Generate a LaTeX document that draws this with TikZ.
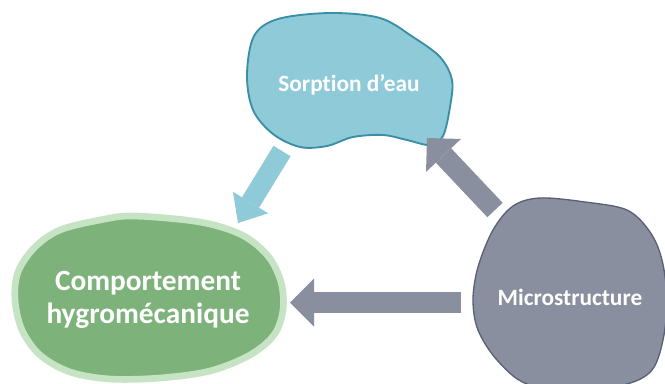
\documentclass[tikz,border=0pt]{standalone}
\usepackage{fontspec}
\setmainfont{Carlito}[Ligatures=NoCommon]
\usetikzlibrary{arrows.meta}
\definecolor{bluefill}{HTML}{8FCAD9}
\definecolor{blueline}{HTML}{3A8FA6}
\definecolor{greenfill}{HTML}{7DB37B}
\definecolor{greenline}{HTML}{C6E4C4}
\definecolor{grayfill}{HTML}{8A8FA0}
\definecolor{grayline}{HTML}{5A6075}
\tikzset{
  blobtext/.style={text=white, font=\bfseries\fontsize{17.5pt}{21pt}\selectfont, align=center, inner sep=0pt},
  bigtext/.style={text=white, font=\bfseries\fontsize{22pt}{24.75pt}\selectfont, align=center, inner sep=0pt},
  bluearrow/.style={draw=bluefill, line width=15pt, -{Triangle[width=31pt,length=18pt,line width=0pt,fill=bluefill]}},
  grayarrow/.style={draw=grayfill, line width=15.75pt, -{Triangle[width=36pt,length=18pt,line width=0pt,fill=grayfill]}}
}
\begin{document}
\begin{tikzpicture}[x=0.75pt,y=-0.75pt]
\useasboundingbox (0,0) rectangle (665,383);
\clip (0,0) rectangle (665,383);
\fill[white] (0,0) rectangle (665,383);
% blue blob
\draw[fill=bluefill, draw=blueline, line width=1.4pt, tension=0.55]
  plot[smooth cycle] coordinates {(247,75) (254,36) (278,19) (330,13) (380,18) (413,37) (440,57) (452,80) (450,107) (443,136) (430,145) (407,140) (383,135) (353,137) (327,146) (300,147) (273,134) (253,110)};
% green blob
\draw[fill=greenfill, draw=greenline, line width=5pt, tension=0.55]
  plot[smooth cycle] coordinates {(134,216) (100,220) (60,230) (35,247) (18,272) (15,300) (22,330) (40,355) (70,372) (110,379) (160,378) (210,371) (250,355) (274,335) (283,310) (281,282) (268,256) (242,235) (200,222)};
% gray blob
\draw[fill=grayfill, draw=grayline, line width=1pt, tension=0.55]
  plot[smooth cycle] coordinates {(540,198) (585,202) (627,210) (650,232) (662,260) (667,300) (663,340) (652,370) (627,384) (580,390) (527,384) (497,360) (478,330) (473,300) (478,267) (493,230) (513,206)};
% texts
\node[blobtext] (sorp) at (349,85) {Sorption d’eau};
\node[bigtext] (comp) at (148,300) {Comportement\\hygromécanique};
\node[blobtext] (micro) at (570,297) {Microstructure};
% arrow end points
\coordinate (b1) at (282,151);
\coordinate (b2) at (238,223);
\coordinate (g1) at (495,210);
\coordinate (g2) at (427,138);
\coordinate (h1) at (461,302.5);
\coordinate (h2) at (290,302.5);
\draw[bluearrow] (b1) -- (b2);
\draw[grayarrow] (g1) -- (g2);
\draw[grayarrow] (h1) -- (h2);
\end{tikzpicture}
\end{document}
